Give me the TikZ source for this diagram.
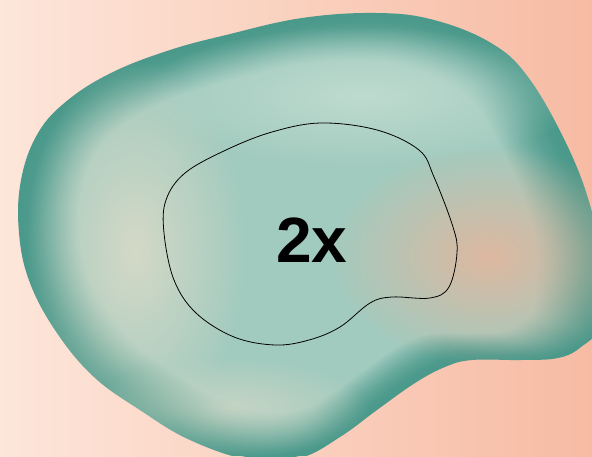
\documentclass[tikz,border=0pt]{standalone}
\usepackage{fontspec}
\setmainfont{Liberation Sans}
\usetikzlibrary{fadings}
\definecolor{bgL}{HTML}{FDE6DA}
\definecolor{bgR}{HTML}{F7BBA3}
\definecolor{tealE}{HTML}{4A998B}
\definecolor{mintC}{HTML}{A2CBBF}
\definecolor{beigeL}{HTML}{D5D9C7}
\definecolor{peachR}{HTML}{DEB8A0}
\definecolor{lightT}{HTML}{BFDBCF}
\tikzfading[name=softspot, inner color=transparent!0, outer color=transparent!100]
\newcommand\outerblob{plot[smooth cycle, tension=0.65] coordinates {(377,13) (434,20) (491,43) (528,77) (566,143) (590,205) (600,260) (598,325) (581,347) (558,358) (521,360) (472,360) (445,367) (415,383) (377,410) (340,437) (300,458) (250,460) (190,440) (140,410) (94,377) (57,333) (30,283) (19,233) (21,180) (38,133) (68,100) (113,72) (170,50) (226,35) (302,18)}}
\newcommand\innerblob{plot[smooth cycle, tension=0.6] coordinates {(321,123) (377,130) (419,150) (434,177) (453,227) (457,253) (449,287) (430,298) (392,297) (370,303) (340,327) (309,340) (275,345) (234,337) (196,313) (174,280) (164,233) (166,200) (185,173) (226,150) (272,132)}}
\tikzset{blobline/.style={draw=black, line width=0.8pt}}
\begin{document}
\begin{tikzpicture}[x=1pt,y=-1pt]
\useasboundingbox (0,0) rectangle (592,456);
\shade[left color=bgL, right color=bgR] (0,0) rectangle (592,456);
\begin{scope}
\clip (0,0) rectangle (592,456);
\clip \outerblob;
\fill[tealE] (0,0) rectangle (592,456);
\foreach \k in {0,...,26}{
  \pgfmathsetmacro\s{0.99-0.0078*\k}
  \pgfmathsetmacro\f{100*(\k/26)^1.5}
  \begin{scope}[shift={(300,235)}, scale=\s, shift={(-300,-235)}]
    \fill[mintC!\f!tealE] \outerblob;
  \end{scope}
}
\fill[beigeL, path fading=softspot] (135,250) ellipse [x radius=110, y radius=190];
\fill[peachR, path fading=softspot] (490,256) ellipse [x radius=160, y radius=110];
\fill[lightT, path fading=softspot] (362,96) ellipse [x radius=220, y radius=70];
\fill[beigeL, opacity=0.7, path fading=softspot] (230,408) ellipse [x radius=140, y radius=50];
\end{scope}
\path[blobline] \innerblob;
\node[font=\fontsize{64}{64}\selectfont\bfseries, text=black, inner sep=0pt] (lbl) at (312,240) {2x};
\end{tikzpicture}
\end{document}
